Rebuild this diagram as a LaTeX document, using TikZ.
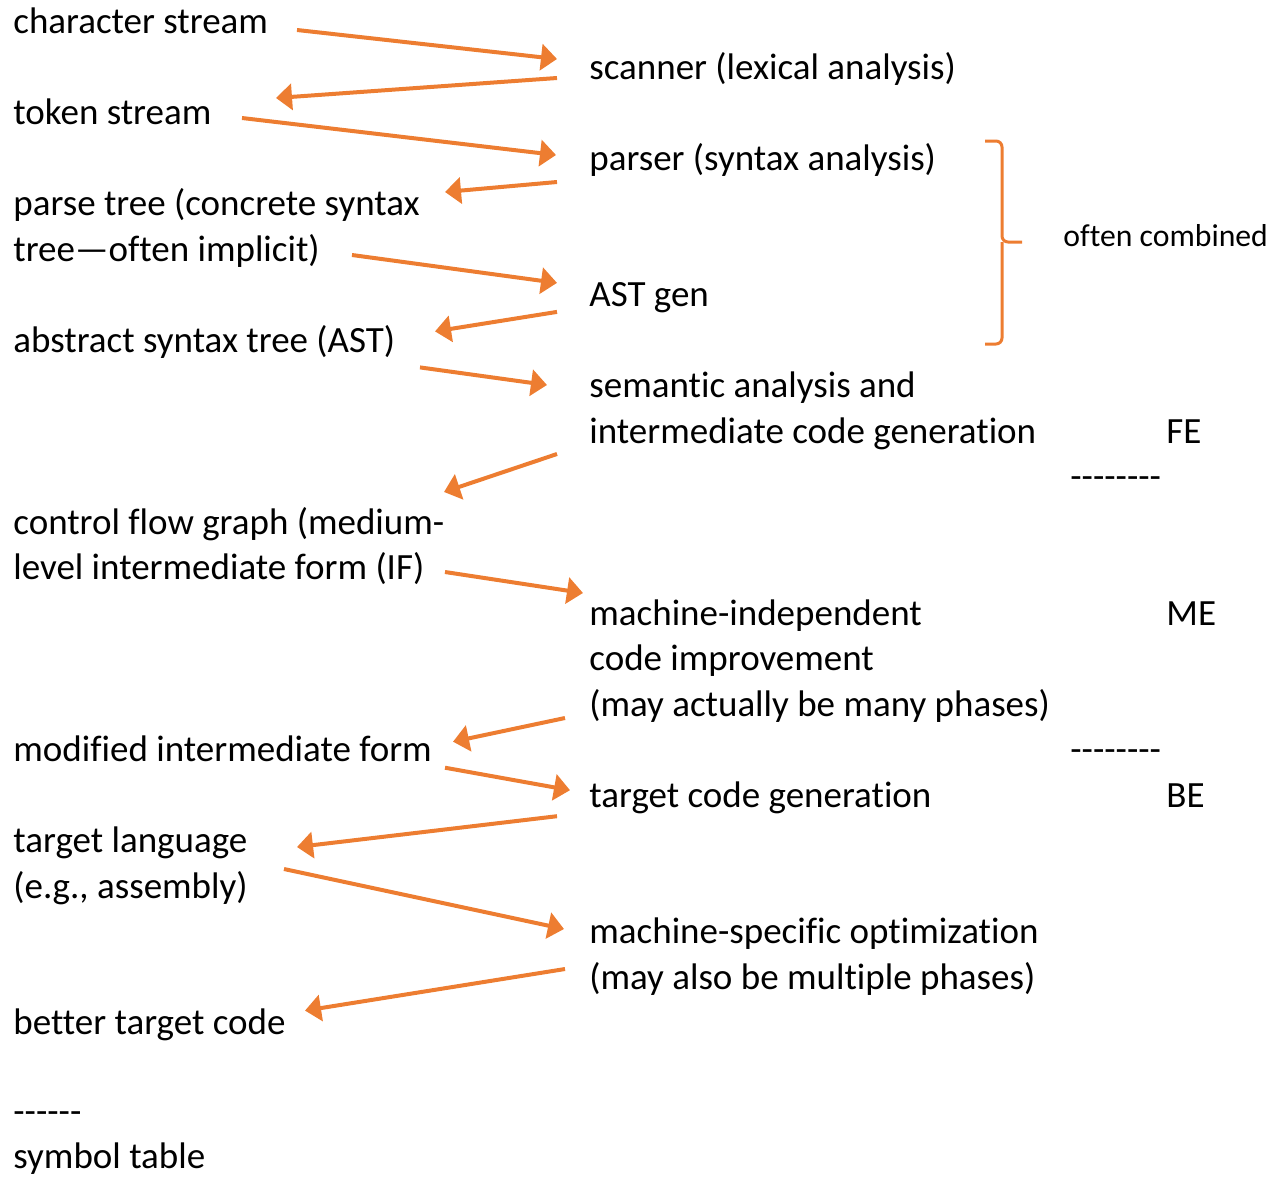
\documentclass[tikz,border=0pt]{standalone}
\usepackage{fontspec}
\setmainfont{Carlito}[Ligatures={TeXOff,NoCommon}]
\usepackage{tikz}
\usetikzlibrary{arrows.meta}
\definecolor{accentorange}{HTML}{ED7D31}

\begin{document}
\begin{tikzpicture}[x=0.5pt, y=-0.5pt,
        txt/.style={anchor=base west, inner sep=0pt, align=left, font=\fontsize{18.5}{22.74}\selectfont},
        note/.style={anchor=base west, inner sep=0pt, font=\fontsize{15.85}{19.5}\selectfont},
        flow/.style={draw=accentorange, line width=2pt, -{Triangle[length=8pt,width=13pt]}},
        bracket/.style={draw=accentorange, line width=1.5pt, rounded corners=3pt}]
                \useasboundingbox (0,0) rectangle (1283,1177);

                \node[txt] (cs) at (13,34) {character stream};
                \node[txt] (ts) at (13,125) {token stream};
                \node[txt] (pt) at (13,261.4) {parse tree (concrete syntax\\tree—often implicit)};
                \node[txt] (ast) at (13,352.4) {abstract syntax tree (AST)};
                \node[txt] (cfg) at (13,579.8) {control flow graph (medium-\\level intermediate form (IF)};
                \node[txt] (mif) at (13,761.7) {modified intermediate form};
                \node[txt] (tl) at (13,898.1) {target language\\(e.g., assembly)};
                \node[txt] (btc) at (13,1034.6) {better target code};
                \node[txt] (st) at (13,1168.5) {------\\symbol table};

                \node[txt] (scan) at (589,79.5) {scanner (lexical analysis)};
                \node[txt] (pars) at (589,170.4) {parser (syntax analysis)};
                \node[txt] (astg) at (589,306.9) {AST gen};
                \node[txt] (sem) at (589,443.3) {semantic analysis and\\intermediate code generation};
                \node[txt] (mic) at (589,716.2) {machine-independent\\code improvement\\(may actually be many phases)};
                \node[txt] (tcg) at (589,807.2) {target code generation};
                \node[txt] (mso) at (589,989.1) {machine-specific optimization\\(may also be multiple phases)};

                \node[note] (comb) at (1063,246) {often combined};
                \node[txt] (fe) at (1166,443.3) {FE};
                \node[txt] (fedash) at (1070,488.8) {--------};
                \node[txt] (me) at (1166,625.2) {ME};
                \node[txt] (bedash) at (1070,761.7) {--------};
                \node[txt] (be) at (1166,807.2) {BE};

                \draw[bracket] (985,141) -| (1002,242) -- (1022,242);
                \draw[bracket] (985,344) -| (1002,242);

                \draw[flow] ([shift={(284,-4)}]cs.base west) -- ([shift={(-32,-20.5)}]scan.base west);
                \draw[flow] ([shift={(-32,-1.5)}]scan.base west) -- ([shift={(263,-27)}]ts.base west);
                \draw[flow] ([shift={(229,-7)}]ts.base west) -- ([shift={(-33,-15.4)}]pars.base west);
                \draw[flow] ([shift={(-32,11.6)}]pars.base west) -- ([shift={(432,-69.4)}]pt.base west);
                \draw[flow] ([shift={(339,-6.4)}]pt.base west) -- ([shift={(-32,-24)}]astg.base west);
                \draw[flow] ([shift={(-32,5)}]astg.base west) -- ([shift={(422,-21)}]ast.base west);
                \draw[flow] ([shift={(407,15)}]ast.base west) -- ([shift={(-42,-58.3)}]sem.base west);
                \draw[flow] ([shift={(-32,10.7)}]sem.base west) -- ([shift={(431,-87.8)}]cfg.base west);
                \draw[flow] ([shift={(432,-7.8)}]cfg.base west) -- ([shift={(-6,-123.2)}]mic.base west);
                \draw[flow] ([shift={(-24,1.8)}]mic.base west) -- ([shift={(440,-20)}]mif.base west);
                \draw[flow] ([shift={(432,6)}]mif.base west) -- ([shift={(-19,-17)}]tcg.base west);
                \draw[flow] ([shift={(-32,9)}]tcg.base west) -- ([shift={(284,-51.1)}]tl.base west);
                \draw[flow] ([shift={(271,-29.1)}]tl.base west) -- ([shift={(-25,-60.1)}]mso.base west);
                \draw[flow] ([shift={(-24,-20.1)}]mso.base west) -- ([shift={(292,-24)}]btc.base west);
\end{tikzpicture}
\end{document}
